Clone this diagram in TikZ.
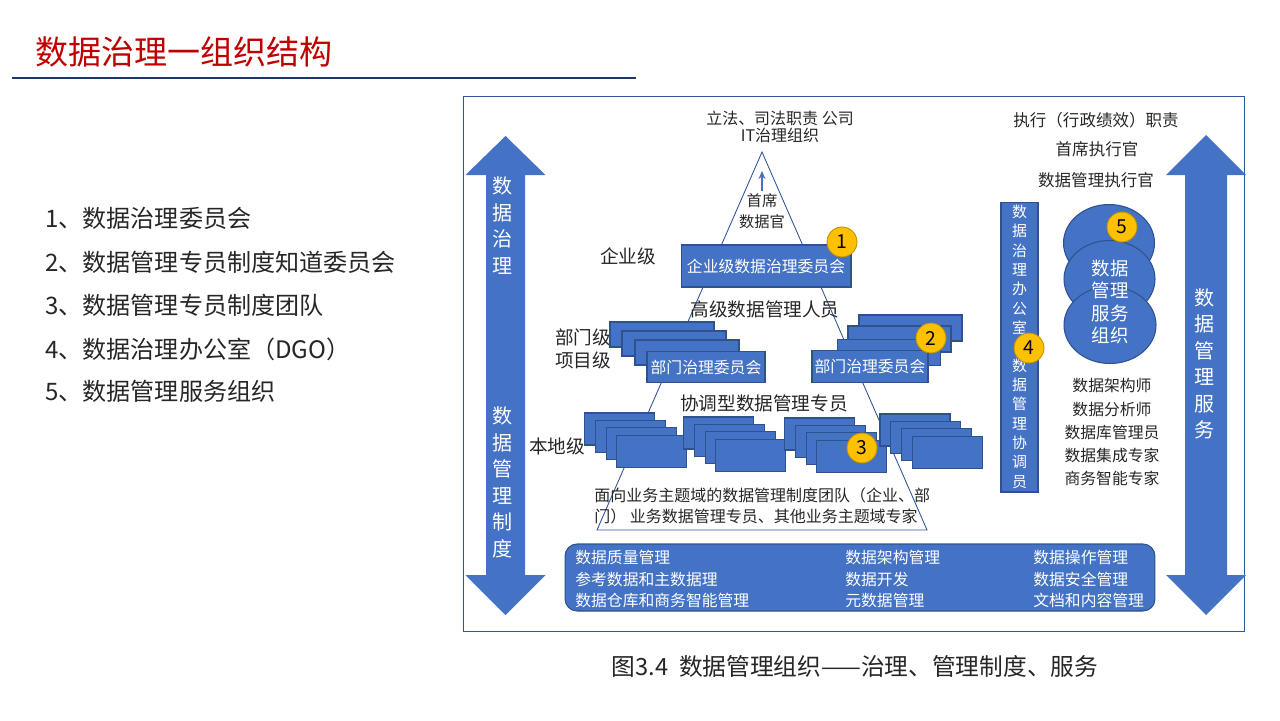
\documentclass[tikz,border=0pt]{standalone}
\usepackage{fontspec}
\setmainfont{Noto Sans CJK SC}
\usepackage{xcolor}
\usetikzlibrary{arrows.meta,shapes.geometric}
\definecolor{dgBlue}{HTML}{4472C4}
\definecolor{dgEdge}{HTML}{2F528F}
\definecolor{dgFrame}{HTML}{2F5597}
\definecolor{dgGold}{HTML}{FFC000}
\definecolor{dgGoldEdge}{HTML}{BF9000}
\definecolor{dgRed}{HTML}{C00000}
\definecolor{dgNavy}{HTML}{1F3864}
\definecolor{dgInk}{HTML}{262626}
\tikzset{
  dgbox/.style={draw=dgEdge, fill=dgBlue, line width=0.6pt, inner sep=0pt},
  dgcard/.style={dgbox, text=white, font=\fontsize{9}{11}\selectfont},
  dgbadge/.style={circle, draw=dgGoldEdge, fill=dgGold, line width=0.5pt,
    minimum size=0.6cm, inner sep=0pt, font=\fontsize{11}{11}\selectfont},
  dglabel/.style={inner sep=0pt, align=center, text=dgInk, font=\fontsize{10.6}{13}\selectfont},
  dgnote/.style={inner sep=0pt, align=center, text=dgInk, font=\fontsize{9}{12}\selectfont},
  dgvert/.style={inner sep=0pt, align=center, text=white, font=\fontsize{11.4}{15.1}\selectfont},
  dglist/.style={inner sep=0pt, anchor=west, text=dgInk, font=\fontsize{13.7}{16}\selectfont},
  dgarrow/.style={fill=dgBlue, draw=none},
  dgline/.style={draw=dgFrame, line width=0.5pt}
}

\begin{document}
\begin{tikzpicture}[x=0.02cm, y=-0.02cm]
  \useasboundingbox (0,0) rectangle (1280,720);

  % title and list
  \node[inner sep=0pt, anchor=west, text=dgRed, font=\fontsize{18.8}{22}\selectfont] (title) at (35,52) {数据治理一组织结构};
  \draw[draw=dgNavy, line width=0.8pt] (12,78) -- (636,78);
  \node[dglist] (item1) at (45,218) {1、数据治理委员会};
  \node[dglist] (item2) at (45,262) {2、数据管理专员制度知道委员会};
  \node[dglist] (item3) at (45,305) {3、数据管理专员制度团队};
  \node[dglist] (item4) at (45,349) {4、数据治理办公室（DGO）};
  \node[dglist] (item5) at (45,391) {5、数据管理服务组织};

  % frame
  \draw[dgline] (463,96) rectangle (1244,631);

  % side arrows
  \fill[dgarrow] (505.5,136) -- (545.5,175) -- (525,175) -- (525,575) -- (545.5,575)
    -- (505.5,615) -- (465.5,575) -- (486,575) -- (486,175) -- (465.5,175) -- cycle;
  \fill[dgarrow] (1206,135) -- (1246,175) -- (1227,175) -- (1227,575) -- (1246,575)
    -- (1206,615) -- (1166,575) -- (1185,575) -- (1185,175) -- (1166,175) -- cycle;
  \node[dgvert] (govText) at (503,225.5) {数\\据\\治\\理};
  \node[dgvert] (ruleText) at (503,482.5) {数\\据\\管\\理\\制\\度};
  \node[dgvert] (servText) at (1204,364) {数\\据\\管\\理\\服\\务};

  % pyramid
  \coordinate (apex) at (762,152);
  \coordinate (baseR) at (927,530);
  \coordinate (baseL) at (597,530);
  \draw[dgline] (apex) -- (baseR) -- (baseL) -- cycle;
  \node[dgnote, font=\fontsize{9.1}{9.6}\selectfont] (legal) at (780,127) {立法、司法职责 公司\\IT治理组织};
  \node[dgnote, font=\fontsize{8.7}{12}\selectfont] (cdo) at (762,211) {首席\\数据官};
  \coordinate (cdoTip) at (762,171);
  \draw[draw=dgBlue, line width=0.8pt, -{Stealth[length=1.6mm,width=1.4mm]}] ([yshift=1pt]cdo.north) -- (cdoTip);
  \node[dglabel] (entLevel) at (628,256) {企业级};
  \node[dgcard, minimum width=3.4cm, minimum height=0.84cm] (entBoard) at (766,266) {企业级数据治理委员会};
  \node[dglabel] (seniorText) at (765,309) {高级数据管理人员};
  \node[dglabel, anchor=west, align=left, font=\fontsize{10.6}{13.1}\selectfont] (deptLevel) at (555,348.5) {部门级、\\项目级};

  % department stacks
  \node[dgbox, minimum width=2.08cm, minimum height=0.5cm] (deptL1) at (662,334.5) {};
  \node[dgbox, minimum width=2.08cm, minimum height=0.5cm] (deptL2) at (674,343.5) {};
  \node[dgbox, minimum width=2.08cm, minimum height=0.5cm] (deptL3) at (687,352.5) {};
  \node[dgcard, minimum width=2.36cm, minimum height=0.62cm] (deptL) at (706,367) {部门治理委员会};
  \node[dgbox, minimum width=2.06cm, minimum height=0.52cm] (deptR1) at (910.5,328) {};
  \node[dgbox, minimum width=2.06cm, minimum height=0.52cm] (deptR2) at (899.5,339) {};
  \node[dgbox, minimum width=2.06cm, minimum height=0.52cm] (deptR3) at (889,352.5) {};
  \node[dgcard, minimum width=2.32cm, minimum height=0.64cm] (deptR) at (870,366.5) {部门治理委员会};

  \node[dglabel] (coordText) at (764,403) {协调型数据管理专员};
  \node[dglabel] (localLevel) at (557,446) {本地级};

  % local stacks
  \foreach \sx/\sy/\nm in {619.5/429/A, 718.5/433/B, 819.5/434/C, 915/430/D}
    \foreach \k in {0,...,3}
      \node[dgbox, minimum width=1.4cm, minimum height=0.64cm] (loc\nm\k) at (\sx+10.8*\k, \sy+7.4*\k) {};

  \node[dgnote, anchor=west, align=left, font=\fontsize{9.1}{12}\selectfont] (teamText) at (594,505.5)
    {面向业务主题域的数据管理制度团队（企业、部\\门） 业务数据管理专员、其他业务主题域专家};

  % functions bar
  \node[dgbox, rounded corners=0.24cm, minimum width=11.8cm, minimum height=1.34cm] (funcBar) at (860,577.5) {};
  \node[inner sep=0pt, anchor=west, align=left, text=white, font=\fontsize{9}{12}\selectfont] (funcA) at (575,579)
    {数据质量管理\\参考数据和主数据理\\数据仓库和商务智能管理};
  \node[inner sep=0pt, anchor=west, align=left, text=white, font=\fontsize{9}{12}\selectfont] (funcB) at (845,579)
    {数据架构管理\\数据开发\\元数据管理};
  \node[inner sep=0pt, anchor=west, align=left, text=white, font=\fontsize{9}{12}\selectfont] (funcC) at (1033,579)
    {数据操作管理\\数据安全管理\\文档和内容管理};

  % executive side
  \node[dgnote, font=\fontsize{9.4}{12}\selectfont] (execDuty) at (1096,120) {执行（行政绩效）职责};
  \node[dgnote, font=\fontsize{9.4}{12}\selectfont] (ceo) at (1097,149) {首席执行官};
  \node[dgnote, font=\fontsize{9.4}{12}\selectfont] (dmExec) at (1096,180) {数据管理执行官};
  \node[dgbox, minimum width=0.74cm, minimum height=5.8cm] (office) at (1019.5,347) {};
  \node[inner sep=0pt, align=center, text=white, font=\fontsize{8.5}{11}\selectfont] (officeA) at (1019.5,269.5) {数\\据\\治\\理\\办\\公\\室};
  \node[inner sep=0pt, align=center, text=white, font=\fontsize{8.5}{11}\selectfont] (officeB) at (1019.5,423.5) {数\\据\\管\\理\\协\\调\\员};

  \node[dgbox, ellipse, minimum width=1.82cm, minimum height=1.54cm] (svcTop) at (1109,243) {};
  \node[dgbox, ellipse, minimum width=1.82cm, minimum height=1.54cm] (svcMid) at (1109.5,279) {};
  \node[dgbox, ellipse, minimum width=1.84cm, minimum height=1.54cm] (svcBot) at (1110,325) {};
  \node[inner sep=0pt, align=center, text=white, font=\fontsize{10.5}{12.7}\selectfont] (svcText) at (1110,302) {数据\\管理\\服务\\组织};
  \node[dgnote, font=\fontsize{9}{13.1}\selectfont] (roles) at (1112,432) {数据架构师\\数据分析师\\数据库管理员\\数据集成专家\\商务智能专家};

  % badges
  \node[dgbadge] (badge1) at (842,242) {1};
  \node[dgbadge] (badge2) at (931,338) {2};
  \node[dgbadge] (badge3) at (862,448) {3};
  \node[dgbadge] (badge4) at (1029,348) {4};
  \node[dgbadge] (badge5) at (1122,227) {5};

  % caption
  \node[inner sep=0pt, text=dgInk, font=\fontsize{13.5}{16}\selectfont] (caption) at (855,666) {图3.4\ \ 数据管理组织——治理、管理制度、服务};
\end{tikzpicture}
\end{document}
